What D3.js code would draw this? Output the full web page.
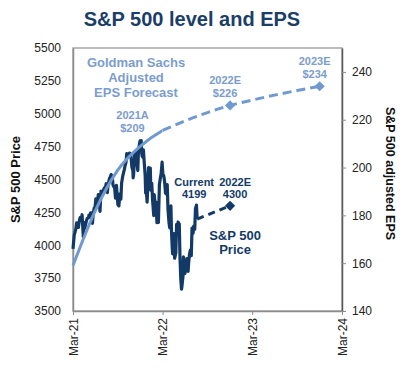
<!DOCTYPE html>
<html>
<head>
<meta charset="utf-8">
<script src="https://cdnjs.cloudflare.com/ajax/libs/d3/7.8.5/d3.min.js"></script>
<style>
  body { margin: 0; background: #fff; }
  #chart { width: 409px; height: 375px; }
  text { font-family: 'Liberation Sans', Arial, sans-serif; }
</style>
</head>
<body>
<div id="chart"></div>
<script>
// S&P 500 closes, roughly two per week
const priceDates = [
    '2021-03-31', '2021-04-05', '2021-04-08', '2021-04-12', '2021-04-15', '2021-04-20', '2021-04-22', '2021-04-26', '2021-04-29',
    '2021-05-03', '2021-05-07', '2021-05-12', '2021-05-14', '2021-05-18', '2021-05-21', '2021-05-25', '2021-05-28',
    '2021-06-02', '2021-06-04', '2021-06-08', '2021-06-11', '2021-06-15', '2021-06-18', '2021-06-22', '2021-06-25', '2021-06-29',
    '2021-07-02', '2021-07-08', '2021-07-12', '2021-07-16', '2021-07-19', '2021-07-23', '2021-07-27', '2021-07-30',
    '2021-08-03', '2021-08-06', '2021-08-10', '2021-08-13', '2021-08-18', '2021-08-20', '2021-08-24', '2021-08-27', '2021-08-31',
    '2021-09-02', '2021-09-07', '2021-09-10', '2021-09-14', '2021-09-17', '2021-09-20', '2021-09-24', '2021-09-28', '2021-09-30',
    '2021-10-04', '2021-10-08', '2021-10-12', '2021-10-15', '2021-10-19', '2021-10-22', '2021-10-26', '2021-10-29',
    '2021-11-02', '2021-11-05', '2021-11-09', '2021-11-12', '2021-11-16', '2021-11-19', '2021-11-22', '2021-11-26', '2021-11-30',
    '2021-12-01', '2021-12-03', '2021-12-07', '2021-12-10', '2021-12-14', '2021-12-17', '2021-12-20', '2021-12-23', '2021-12-29', '2021-12-31',
    '2022-01-03', '2022-01-05', '2022-01-07', '2022-01-10', '2022-01-12', '2022-01-14', '2022-01-19', '2022-01-21', '2022-01-24', '2022-01-27', '2022-01-31',
    '2022-02-02', '2022-02-04', '2022-02-09', '2022-02-11', '2022-02-15', '2022-02-18', '2022-02-23', '2022-02-25',
    '2022-03-01', '2022-03-04', '2022-03-08', '2022-03-11', '2022-03-14', '2022-03-18', '2022-03-22', '2022-03-25', '2022-03-29',
    '2022-04-01', '2022-04-05', '2022-04-08', '2022-04-12', '2022-04-14', '2022-04-19', '2022-04-22', '2022-04-26', '2022-04-29',
    '2022-05-04', '2022-05-06', '2022-05-09', '2022-05-11', '2022-05-13', '2022-05-17', '2022-05-19', '2022-05-24', '2022-05-27',
    '2022-06-01', '2022-06-02', '2022-06-07', '2022-06-10', '2022-06-13', '2022-06-16', '2022-06-17', '2022-06-22', '2022-06-24', '2022-06-28', '2022-06-30',
    '2022-07-05', '2022-07-08', '2022-07-13', '2022-07-15', '2022-07-19', '2022-07-22', '2022-07-26', '2022-07-29',
    '2022-08-02', '2022-08-05', '2022-08-09', '2022-08-12', '2022-08-16', '2022-08-19'
];
const priceValues = [
    3973, 4077, 4097, 4128, 4170, 4135, 4135, 4188, 4211,
    4192, 4232, 4063, 4174, 4128, 4156, 4188, 4204,
    4208, 4230, 4227, 4247, 4246, 4166, 4246, 4281, 4291,
    4352, 4320, 4385, 4327, 4258, 4412, 4401, 4395,
    4423, 4437, 4437, 4468, 4400, 4442, 4486, 4509, 4523,
    4537, 4520, 4458, 4443, 4433, 4358, 4455, 4353, 4308,
    4300, 4391, 4351, 4471, 4519, 4545, 4575, 4605,
    4631, 4697, 4685, 4683, 4701, 4698, 4682, 4595, 4567,
    4513, 4538, 4686, 4712, 4634, 4621, 4568, 4726, 4793, 4766,
    4796, 4700, 4677, 4670, 4726, 4663, 4533, 4398, 4410, 4327, 4516,
    4590, 4501, 4587, 4419, 4471, 4349, 4226, 4385,
    4306, 4329, 4171, 4204, 4173, 4463, 4512, 4543, 4632,
    4546, 4526, 4488, 4397, 4392, 4462, 4272, 4175, 4132,
    4300, 4123, 3991, 3935, 4024, 4088, 3901, 3941, 4158,
    4101, 4177, 4161, 3901, 3750, 3667, 3675, 3760, 3912, 3821, 3785,
    3831, 3899, 3801, 3863, 3937, 3962, 3921, 4130,
    4091, 4145, 4122, 4280, 4305, 4199
];

const priceTargetDate = '2022-12-31';
const priceTarget = 4300;

// Goldman Sachs adjusted EPS path (actual to Dec-21, forecast after)
const epsDates = ['2021-03-31', '2021-06-30', '2021-09-30', '2021-12-31', '2022-03-31', '2022-06-30',
    '2022-09-30', '2022-12-31', '2023-03-31', '2023-06-30', '2023-09-30', '2023-12-31'];
const epsValues = [159, 182, 199, 209, 215.5, 219.5, 223, 226, 228.2, 230.3, 232.2, 234];
const epsForecastStart = '2022-03-31';
const epsMarkerDates = ['2022-12-31', '2023-12-31'];

const xTickDates = ['2021-03-31', '2022-03-31', '2023-03-31', '2024-03-31'];
const yLeftTicks = [3500, 3750, 4000, 4250, 4500, 4750, 5000, 5250, 5500];
const yRightTicks = [140, 160, 180, 200, 220, 240];

(function () {
    'use strict';

    const parse = d3.timeParse('%Y-%m-%d');
    const navy = '#133a66';
    const lightBlue = '#7099d0';
    const lightText = '#7b9dcd';

    const margin = { top: 48, right: 67, bottom: 64, left: 73 };
    const totalW = 409, totalH = 375;
    const width = totalW - margin.left - margin.right;
    const height = totalH - margin.top - margin.bottom;

    const svg = d3.select('#chart').append('svg')
        .attr('width', totalW).attr('height', totalH);

    svg.append('text')
        .attr('x', 192).attr('y', 26)
        .attr('text-anchor', 'middle')
        .style('font-size', '20px').style('font-weight', 'bold')
        .style('fill', '#1b3e68')
        .text('S&P 500 level and EPS');

    const g = svg.append('g').attr('transform', 'translate(' + margin.left + ',' + margin.top + ')');

    const xScale = d3.scaleTime()
        .domain([parse(xTickDates[0]), parse(xTickDates[xTickDates.length - 1])])
        .range([0, width]);
    const yLeft = d3.scaleLinear().domain([3500, 5500]).range([height, 0]);
    const yRight = d3.scaleLinear().domain([140, 250]).range([height, 0]);

    // frame
    g.append('rect')
        .attr('width', width).attr('height', height)
        .style('fill', 'none').style('stroke', '#a6a6a6').style('stroke-width', 1.5);

    const xAxis = d3.axisBottom(xScale)
        .tickValues(xTickDates.map(parse))
        .tickFormat(d3.timeFormat('%b-%y'))
        .tickSize(4).tickSizeOuter(0);
    const gx = g.append('g').attr('transform', 'translate(0,' + height + ')').call(xAxis);
    gx.selectAll('text')
        .attr('transform', 'rotate(-90)')
        .attr('x', -7).attr('y', 0).attr('dx', 0).attr('dy', '0.35em')
        .style('text-anchor', 'end');

    const gl = g.append('g').call(d3.axisLeft(yLeft).tickValues(yLeftTicks).tickFormat(d3.format('d'))
        .tickSize(0).tickPadding(12));
    const gr = g.append('g').attr('transform', 'translate(' + width + ',0)')
        .call(d3.axisRight(yRight).tickValues(yRightTicks).tickSize(4).tickPadding(6).tickSizeOuter(0));

    [gx, gl, gr].forEach(function (ax) {
        ax.select('.domain').style('stroke', '#8c8c8c').style('stroke-width', 1.5);
        ax.selectAll('.tick line').style('stroke', '#8c8c8c');
        ax.selectAll('.tick text').style('font-size', '12px').style('fill', '#222')
            .style('font-family', "'Liberation Sans', Arial, sans-serif");
    });
    gr.select('.domain').style('stroke', '#595959');

    // axis titles
    svg.append('text')
        .attr('transform', 'translate(20,' + (margin.top + height / 2) + ') rotate(-90)')
        .attr('text-anchor', 'middle')
        .style('font-size', '13px').style('font-weight', 'bold').style('fill', '#111')
        .text('S&P 500 Price');
    svg.append('text')
        .attr('transform', 'translate(386,' + (margin.top + height / 2 - 6) + ') rotate(90)')
        .attr('text-anchor', 'middle')
        .style('font-size', '12.5px').style('font-weight', 'bold').style('fill', '#111')
        .text('S&P 500 adjusted EPS');

    // price
    const price = priceDates.map(function (d, i) {
        return { date: parse(d), value: priceValues[i] };
    });
    const priceLine = d3.line()
        .x(function (d) { return xScale(d.date); })
        .y(function (d) { return yLeft(d.value); });

    g.append('path').datum(price)
        .attr('d', priceLine)
        .style('fill', 'none').style('stroke', navy).style('stroke-width', 3.2)
        .style('stroke-linejoin', 'round');

    const last = price[price.length - 1];
    const target = { date: parse(priceTargetDate), value: priceTarget };
    g.append('path').datum([last, target])
        .attr('d', priceLine)
        .style('fill', 'none').style('stroke', navy).style('stroke-width', 3)
        .style('stroke-dasharray', '7,5');

    const diamond = d3.symbol(d3.symbolSquare).size(52);
    g.append('path')
        .attr('d', diamond)
        .attr('transform', 'translate(' + xScale(target.date) + ',' + yLeft(target.value) + ') rotate(45)')
        .style('fill', navy);

    // EPS
    const eps = epsDates.map(function (d, i) {
        return { date: parse(d), value: epsValues[i] };
    });
    const epsLine = d3.line()
        .curve(d3.curveMonotoneX)
        .x(function (d) { return xScale(d.date); })
        .y(function (d) { return yRight(d.value); });
    const splitX = xScale(parse(epsForecastStart));

    const defs = svg.append('defs');
    defs.append('clipPath').attr('id', 'clip-solid')
        .append('rect').attr('x', -5).attr('y', -10).attr('width', splitX + 5).attr('height', height + 20);
    defs.append('clipPath').attr('id', 'clip-dash')
        .append('rect').attr('x', splitX).attr('y', -10).attr('width', width - splitX + 10).attr('height', height + 20);

    g.append('path').datum(eps)
        .attr('d', epsLine).attr('clip-path', 'url(#clip-solid)')
        .style('fill', 'none').style('stroke', lightBlue).style('stroke-width', 3);
    g.append('path').datum(eps.filter(function (d) { return d.date >= parse(epsForecastStart); }))
        .attr('d', epsLine).attr('clip-path', 'url(#clip-dash)')
        .style('fill', 'none').style('stroke', lightBlue).style('stroke-width', 3)
        .style('stroke-dasharray', '9,5');

    g.selectAll('.eps-marker').data(epsMarkerDates.map(parse))
        .enter().append('path').classed('eps-marker', true)
        .attr('d', diamond)
        .attr('transform', function (d) {
            const v = eps.find(function (e) { return +e.date === +d; }).value;
            return 'translate(' + xScale(d) + ',' + yRight(v) + ') rotate(45)';
        })
        .style('fill', lightBlue);

    // annotations
    function label(x, y, lines, size, color, lineGap) {
        const t = g.append('text')
            .attr('text-anchor', 'middle')
            .style('font-size', size + 'px').style('font-weight', 'bold').style('fill', color);
        lines.forEach(function (s, i) {
            t.append('tspan').attr('x', x).attr('y', y + i * lineGap).text(s);
        });
    }

    label(63, 19, ['Goldman Sachs', 'Adjusted', 'EPS Forecast'], 13, lightText, 15);

    const eps21 = eps[3];
    label(xScale(eps21.date) - 8, yRight(eps21.value) - 27, ['2021A', '$' + eps21.value], 11, lightText, 13);
    epsMarkerDates.forEach(function (ds) {
        const e = eps.find(function (d) { return +d.date === +parse(ds); });
        label(xScale(e.date) - 5, yRight(e.value) - 21, [ds.slice(0, 4) + 'E', '$' + e.value], 11, lightText, 13);
    });

    label(xScale(last.date) - 3, yLeft(last.value) - 33, ['Current', String(last.value)], 11, navy, 12);
    label(xScale(target.date) + 5, yLeft(target.value) - 20, ['2022E', String(target.value)], 11, navy, 12);
    label(xScale(target.date) + 5, yLeft(target.value) + 34, ['S&P 500', 'Price'], 13, navy, 14);
}());
</script>
</body>
</html>
